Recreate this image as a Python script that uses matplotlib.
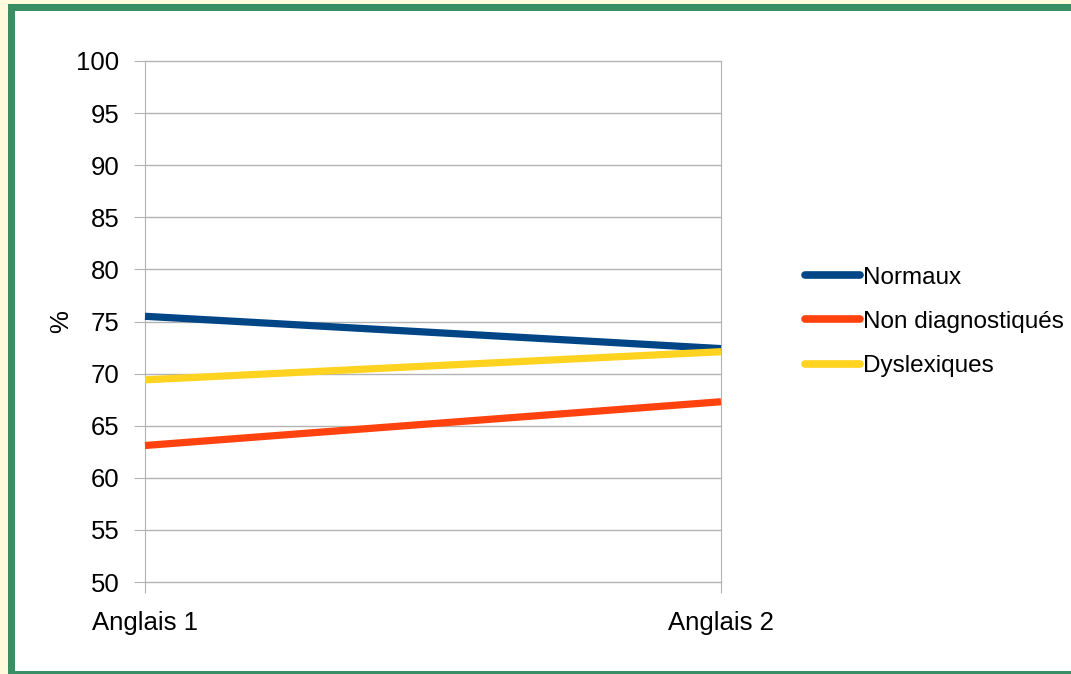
import matplotlib
matplotlib.use("Agg")
import matplotlib.pyplot as plt
from matplotlib.patches import Rectangle

categories = ["Anglais 1", "Anglais 2"]
normaux = [75.5, 72.4]
non_diag = [63.1, 67.3]
dyslexiques = [69.4, 72.1]
series_names = ["Normaux", "Non diagnostiqués", "Dyslexiques"]
y_ticks = list(range(50, 101, 5))

W, H = 1071, 674
FS = 18.5
LFS = 17.5
plt.rcParams['font.family'] = ['Liberation Sans', 'DejaVu Sans']
fig = plt.figure(figsize=(W / 100, H / 100), dpi=100)
fig.patch.set_facecolor('#FFFADC')

def px(x0, y0, x1, y1):
    return (x0 / W, 1 - y1 / H), (x1 - x0) / W, (y1 - y0) / H

xy, w, h = px(8, 4, 1090, 690)
fig.patches.append(Rectangle(xy, w, h, transform=fig.transFigure, facecolor='#3A8E63', edgecolor='none', zorder=-10))
xy, w, h = px(15, 11, 1090, 671)
fig.patches.append(Rectangle(xy, w, h, transform=fig.transFigure, facecolor='white', edgecolor='none', zorder=-9))

ax = fig.add_axes([145 / W, 1 - 582 / H, 576 / W, 521 / H])
ax.set_facecolor('none')
x = list(range(len(categories)))
colors = ['#004586', '#FF420E', '#FFD320']
gray = '#B3B3B3'
for t in y_ticks:
    ax.axhline(t, color=gray, lw=1, clip_on=False, zorder=1)
for vals, name, c in zip([normaux, non_diag, dyslexiques], series_names, colors):
    ax.plot(x, vals, color=c, lw=5.2, label=name, solid_capstyle='butt', clip_on=False, zorder=3)

ax.set_xlim(0, 1)
ax.set_ylim(50, 100)
ax.set_yticks(y_ticks)
ax.set_xticks(x)
ax.set_xticklabels(categories)
for s in ['left', 'right']:
    ax.spines[s].set_color(gray)
ax.spines['top'].set_visible(False)
ax.spines['bottom'].set_visible(False)
ax.tick_params(axis='y', length=8, color=gray, labelsize=FS, pad=10.5)
ax.tick_params(axis='x', length=8, color=gray, labelsize=FS, pad=13)
ax.set_ylabel('%', fontsize=FS, labelpad=2)

leg = fig.legend(loc='center left', bbox_to_anchor=(805 / W, 1 - 322 / H), frameon=False,
                 fontsize=LFS, handlelength=2.25, handletextpad=0.12, labelspacing=0.92,
                 borderpad=0, borderaxespad=0)
for l in leg.get_lines():
    l.set_solid_capstyle('round')
    l.set_linewidth(5.5)

fig.savefig('out.png', dpi=100, facecolor=fig.get_facecolor())
